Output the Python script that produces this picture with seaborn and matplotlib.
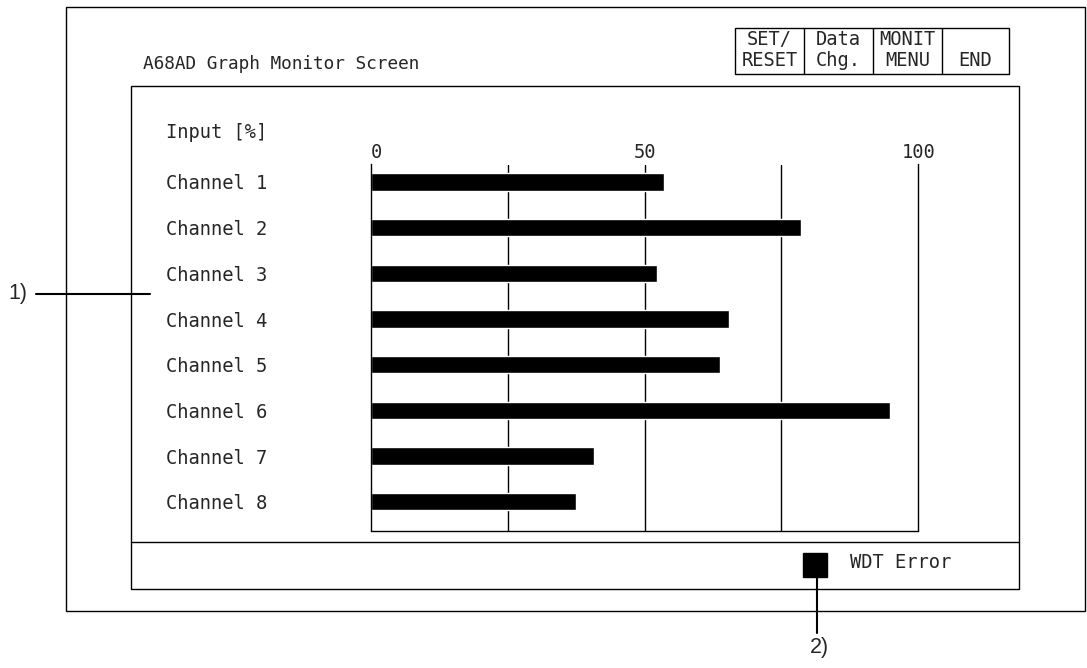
import matplotlib
matplotlib.use('Agg')
import matplotlib.pyplot as plt
from matplotlib.patches import Rectangle
import seaborn as sns

# values
channels = ['Channel 1', 'Channel 2', 'Channel 3', 'Channel 4',
            'Channel 5', 'Channel 6', 'Channel 7', 'Channel 8']
inputs = [53.6, 78.5, 52.3, 65.5, 63.7, 94.9, 40.8, 37.5]
tick_values = [0, 50, 100]
tick_labels = ['0', '50', '100']
grid_values = [25, 50, 75]
buttons = ['SET/\nRESET', 'Data\nChg.', 'MONIT\nMENU', 'END']
title = 'A68AD Graph Monitor Screen'
axis_title = 'Input [%]'
status_label = 'WDT Error'

sns.set_style('white')
plt.rcParams['font.family'] = ['DejaVu Sans Mono']
mono = 13.5
W, H = 1087, 668

fig = plt.figure(figsize=(W / 100, H / 100), dpi=100)

# full-figure canvas in pixel coords for the screen frame
bg = fig.add_axes([0, 0, 1, 1])
bg.set_xlim(0, W)
bg.set_ylim(H, 0)
bg.axis('off')

def box(x0, y0, x1, y1, lw=1.0):
    bg.add_patch(Rectangle((x0, y0), x1 - x0, y1 - y0, fill=False,
                           edgecolor='black', lw=lw))

box(66, 7, 1085, 611)
box(131, 86, 1019, 589)
bg.plot([131, 1019], [542, 542], color='black', lw=1.0)

# buttons top right
box(735, 28, 1009, 74)
edges = [735, 804, 873, 942, 1009]
for i, b in enumerate(buttons):
    if i > 0:
        bg.plot([edges[i], edges[i]], [28, 74], color='black', lw=1.0)
    cy = 50 if '\n' in b else 60
    bg.text((edges[i] + edges[i + 1]) / 2, cy, b, ha='center', va='center',
            fontsize=mono, linespacing=1.15)

bg.text(143, 64, title, ha='left', va='center', fontsize=12.8)
bg.text(166, 132, axis_title, ha='left', va='center', fontsize=mono)

# status area
bg.add_patch(Rectangle((803, 553), 24, 24, color='black'))
bg.text(850, 563, status_label, ha='left', va='center', fontsize=mono)

# callouts
bg.plot([36, 150], [294, 294], color='black', lw=1.5)
bg.text(8, 294, '1)', ha='left', va='center', fontsize=15.5,
        family='Liberation Sans')
bg.plot([817, 817], [577, 633], color='black', lw=1.5)
bg.text(819, 648, '2)', ha='center', va='center', fontsize=15.5,
        family='Liberation Sans')

# bar chart area
x0, x1 = 370.7, 918.3
y_top, y_bot = 164.5, 530.5
ax = fig.add_axes([x0 / W, 1 - y_bot / H, (x1 - x0) / W, (y_bot - y_top) / H])
ax.set_facecolor('none')

sns.barplot(x=inputs, y=channels, orient='h', color='black', saturation=1,
            width=0.38, ax=ax)
ax.set_xlim(0, 100)
ax.set_ylim(7.63, -0.383)
for g in grid_values:
    ax.axvline(g, color='black', lw=1.0, zorder=0)

for s in ['left', 'right', 'bottom']:
    ax.spines[s].set_visible(True)
    ax.spines[s].set_color('black')
    ax.spines[s].set_linewidth(1.0)
ax.spines['top'].set_visible(False)

ax.xaxis.tick_top()
ax.set_xticks(tick_values)
ax.set_xticklabels(tick_labels, fontsize=mono)
ax.get_xticklabels()[0].set_ha('left')
ax.tick_params(axis='x', length=0, pad=2)

ax.set_yticks(range(len(channels)))
ax.set_yticklabels(channels, fontsize=mono, ha='left')
ax.tick_params(axis='y', length=0, pad=(x0 - 166) * 0.72)
ax.set_xlabel('')
ax.set_ylabel('')

fig.savefig('out.png', dpi=100)
